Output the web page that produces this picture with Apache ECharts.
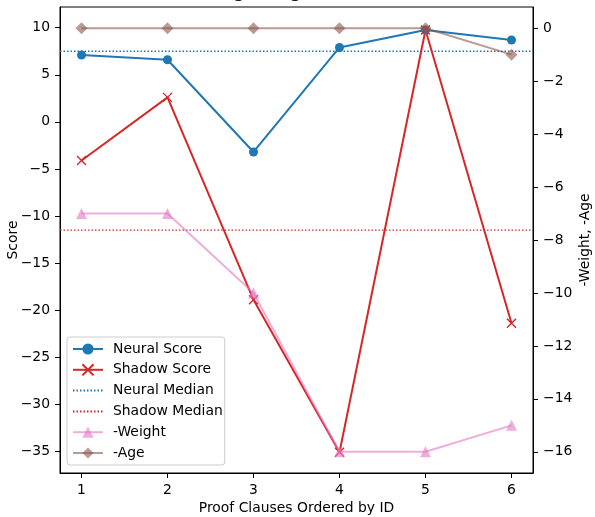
<!DOCTYPE html>
<html>
<head>
<meta charset="utf-8">
<script src="https://cdn.jsdelivr.net/npm/echarts@6/dist/echarts.min.js"></script>
<style>html,body{margin:0;padding:0;background:#fff;}#c{width:595px;height:517px;}</style>
</head>
<body>
<div id="c"></div>
<script>
const clauseIds = [1, 2, 3, 4, 5, 6];
const neuralScore = [7.1, 6.6, -3.2, 7.9, 9.75, 8.7];
const shadowScore = [-4.1, 2.6, -18.9, -35.1, 9.75, -21.4];
const negWeight = [-7, -7, -10, -16, -16, -15];
const negAge = [0, 0, 0, 0, 0, -1];
const scoreTicks = [-35, -30, -25, -20, -15, -10, -5, 0, 5, 10];
const rightTicks = [-16, -14, -12, -10, -8, -6, -4, -2, 0];
const xTicks = [1, 2, 3, 4, 5, 6];
const titleText = 'Scores, Weight, Age of Proof Clauses';

function median(a) {
  const s = a.slice().sort((x, y) => x - y);
  const n = s.length;
  return n % 2 ? s[(n - 1) / 2] : (s[n / 2 - 1] + s[n / 2]) / 2;
}
const neuralMedian = median(neuralScore);
const shadowMedian = median(shadowScore);
const xMin = 0.75, xMax = 6.25;

const FONT = 'DejaVu Sans';
const FS = 13.9;
const fmt = v => String(v).replace('-', '\u2212');
const pairs = (ys) => clauseIds.map((x, i) => [x, ys[i]]);

const chart = echarts.init(document.getElementById('c'), null, {renderer: 'canvas'});
chart.setOption({
  animation: false,
  textStyle: {fontFamily: FONT},
  graphic: [{
    type: 'text', left: 'center', top: -17.5,
    style: {text: titleText, font: '19px "DejaVu Sans"', fill: '#000'}
  }],
  grid: {left: 60, right: 62, top: 7, bottom: 44, outerBoundsMode: 'none', containLabel: false,
         show: true, borderColor: '#000', borderWidth: 1, backgroundColor: 'transparent'},
  legend: {
    orient: 'vertical', left: 67, top: 337,
    padding: [5, 2, 5, 5],
    itemWidth: 30, itemHeight: 14, itemGap: 6.8,
    backgroundColor: 'rgba(255,255,255,0.8)', borderColor: '#cccccc', borderWidth: 1, borderRadius: 3,
    textStyle: {fontFamily: FONT, fontSize: FS, color: '#000', padding: [0, 0, 0, 5]},
    data: [
      {name: 'Neural Score'},
      {name: 'Shadow Score'},
      {name: 'Neural Median', itemStyle: {opacity: 0}},
      {name: 'Shadow Median', itemStyle: {opacity: 0}},
      {name: '-Weight'},
      {name: '-Age'}
    ]
  },
  xAxis: {
    type: 'value', min: xMin, max: xMax,
    name: 'Proof Clauses Ordered by ID', nameLocation: 'middle', nameGap: 28, nameMoveOverlap: false,
    nameTextStyle: {fontFamily: FONT, fontSize: FS, color: '#000'},
    axisLine: {show: true, onZero: false, lineStyle: {color: '#000'}},
    axisTick: {show: true, inside: false, length: 5, lineStyle: {color: '#000'}, customValues: xTicks},
    axisLabel: {fontFamily: FONT, fontSize: FS, color: '#000', margin: 10, customValues: xTicks, formatter: fmt},
    splitLine: {show: false}
  },
  yAxis: [{
    type: 'value', min: -37.3, max: 12.2, position: 'left',
    name: 'Score', nameLocation: 'middle', nameGap: 40, nameRotate: 90, nameMoveOverlap: false,
    nameTextStyle: {fontFamily: FONT, fontSize: FS, color: '#000'},
    axisLine: {show: true, onZero: false, lineStyle: {color: '#000'}},
    axisTick: {show: true, inside: false, length: 5, lineStyle: {color: '#000'}, customValues: scoreTicks},
    axisLabel: {fontFamily: FONT, fontSize: FS, color: '#000', margin: 10, customValues: scoreTicks, formatter: fmt},
    splitLine: {show: false}
  }, {
    type: 'value', min: -16.8, max: 0.8, position: 'right',
    name: '-Weight, -Age', nameLocation: 'middle', nameGap: 45, nameRotate: 90, nameMoveOverlap: false,
    nameTextStyle: {fontFamily: FONT, fontSize: FS, color: '#000'},
    axisLine: {show: true, onZero: false, lineStyle: {color: '#000'}},
    axisTick: {show: true, inside: false, length: 5, lineStyle: {color: '#000'}, customValues: rightTicks},
    axisLabel: {fontFamily: FONT, fontSize: FS, color: '#000', margin: 10, customValues: rightTicks, formatter: fmt},
    splitLine: {show: false}
  }],
  series: [{
    name: 'Neural Score', type: 'line', yAxisIndex: 0, data: pairs(neuralScore),
    symbol: 'circle', symbolSize: 9, z: 3,
    lineStyle: {color: '#1f77b4', width: 2}, itemStyle: {color: '#1f77b4'}
  }, {
    name: 'Shadow Score', type: 'line', yAxisIndex: 0, data: pairs(shadowScore),
    symbol: 'path://M0,0L10,10M10,0L0,10', symbolSize: 9, z: 3,
    lineStyle: {color: '#d62728', width: 2},
    itemStyle: {color: '#d62728', borderColor: '#d62728', borderWidth: 1.4}
  }, {
    name: 'Neural Median', type: 'line', yAxisIndex: 0,
    data: [[xMin, neuralMedian], [xMax, neuralMedian]], symbol: 'none', z: 2,
    lineStyle: {color: '#1f77b4', width: 1.3, type: [1.5, 2]}, itemStyle: {color: '#1f77b4'}
  }, {
    name: 'Shadow Median', type: 'line', yAxisIndex: 0,
    data: [[xMin, shadowMedian], [xMax, shadowMedian]], symbol: 'none', z: 2,
    lineStyle: {color: '#d62728', width: 1.3, type: [1.5, 2]}, itemStyle: {color: '#d62728'}
  }, {
    name: '-Weight', type: 'line', yAxisIndex: 1, data: pairs(negWeight),
    symbol: 'triangle', symbolSize: 11, z: 4,
    lineStyle: {color: '#e377c2', width: 2, opacity: 0.6}, itemStyle: {color: '#e377c2', opacity: 0.6}
  }, {
    name: '-Age', type: 'line', yAxisIndex: 1, data: pairs(negAge),
    symbol: 'diamond', symbolSize: 12, z: 4,
    lineStyle: {color: '#8c564b', width: 2, opacity: 0.6}, itemStyle: {color: '#8c564b', opacity: 0.6}
  }]
});
</script>
</body>
</html>
